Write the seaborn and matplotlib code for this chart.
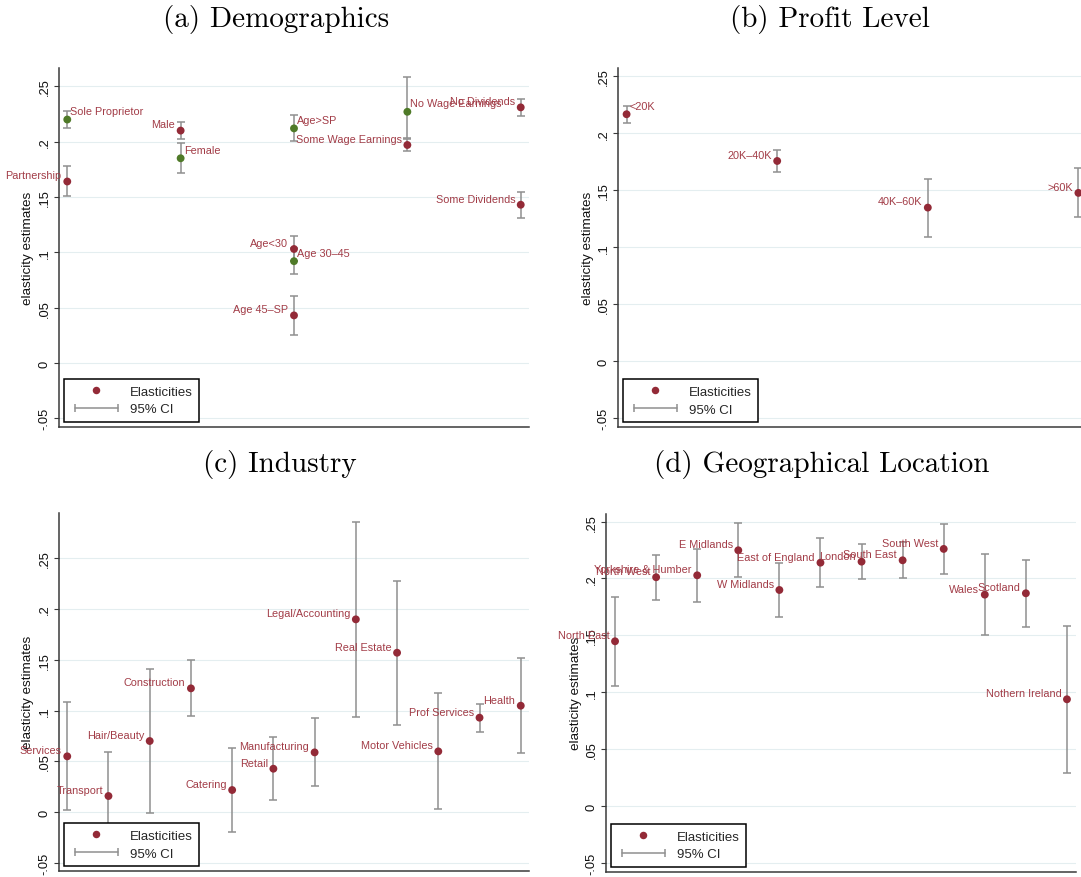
import numpy as np
import pandas as pd
import matplotlib
matplotlib.use("Agg")
import matplotlib.pyplot as plt
import seaborn as sns
from matplotlib.lines import Line2D
from matplotlib.legend_handler import HandlerLine2D

# ---------------- data ----------------
demo_labels = ["Partnership", "Sole Proprietor", "Male", "Female",
               "Age<30", "Age 30\u201345", "Age 45\u2013SP", "Age>SP",
               "Some Wage Earnings", "No Wage Earnings",
               "Some Dividends", "No Dividends"]
demo_group = [1, 1, 2, 2, 3, 3, 3, 3, 4, 4, 5, 5]
demo_est = [0.164, 0.220, 0.210, 0.185, 0.103, 0.092, 0.043, 0.212,
            0.197, 0.227, 0.143, 0.231]
demo_lo = [0.1505, 0.2123, 0.2024, 0.1713, 0.092, 0.0802, 0.025, 0.2005,
           0.1915, 0.2034, 0.1312, 0.2235]
demo_hi = [0.1776, 0.228, 0.218, 0.1987, 0.1146, 0.104, 0.0603, 0.2238,
           0.2025, 0.2587, 0.1547, 0.2388]
demo_kind = ["base", "alt", "base", "alt", "base", "alt", "base", "alt",
             "base", "alt", "base", "base"]

profit_labels = ["<20K", "20K\u201340K", "40K\u201360K", ">60K"]
profit_est = [0.2167, 0.1757, 0.1348, 0.1477]
profit_lo = [0.2088, 0.1658, 0.1094, 0.1263]
profit_hi = [0.2243, 0.1857, 0.1602, 0.1693]

ind_labels = ["Services", "Transport", "Hair/Beauty", "Construction",
              "Catering", "Retail", "Manufacturing", "Legal/Accounting",
              "Real Estate", "Motor Vehicles", "Prof Services", "Health"]
ind_est = [0.0549, 0.0158, 0.070, 0.1219, 0.0217, 0.0427, 0.0588, 0.1899,
           0.157, 0.0598, 0.093, 0.1048]
ind_lo = [0.0016, -0.027, -0.0007, 0.0943, -0.0194, 0.0115, 0.0256, 0.0936,
          0.0861, 0.003, 0.0792, 0.0578]
ind_hi = [0.1081, 0.0588, 0.1406, 0.1495, 0.0631, 0.0742, 0.0923, 0.2861,
          0.228, 0.117, 0.1064, 0.1518]

geo_labels = ["North East", "North West", "Yorkshire & Humber", "E Midlands",
              "W Midlands", "East of England", "London", "South East",
              "South West", "Wales", "Scotland", "Nothern Ireland"]
geo_est = [0.1448, 0.2011, 0.2028, 0.2248, 0.1899, 0.2139, 0.2148, 0.216,
           0.226, 0.1858, 0.187, 0.0938]
geo_lo = [0.1058, 0.1814, 0.1794, 0.2013, 0.1665, 0.1923, 0.1993, 0.2002,
          0.2043, 0.1506, 0.1577, 0.029]
geo_hi = [0.1841, 0.2204, 0.2263, 0.2485, 0.2134, 0.2353, 0.2307, 0.232,
          0.2477, 0.2213, 0.2163, 0.1586]

ytick_vals = [-0.05, 0, 0.05, 0.1, 0.15, 0.2, 0.25]
ytick_text = ["-.05", "0", ".05", ".1", ".15", ".2", ".25"]
titles = ["(a) Demographics", "(b) Profit Level", "(c) Industry",
          "(d) Geographical Location"]

# ---------------- style ----------------
RED = "#932a37"
GREEN = "#4f7a28"
LABEL = "#a23c47"
CI = "#8f8f8f"
GRID = "#e4eef0"
SPINE = "#3a3a3a"

sns.set_theme(style="white")
plt.rcParams["font.family"] = ["Liberation Sans", "DejaVu Sans"]

W, H = 1081, 878
fig = plt.figure(figsize=(W / 100, H / 100), dpi=100)


def add_ax(left, top, right, bottom):
    return fig.add_axes([left / W, 1 - bottom / H, (right - left) / W,
                         (bottom - top) / H])


def draw(ax, x, est, lo, hi, labels, kinds, sides, xlim, ylim, wpx, hpx):
    est = np.asarray(est)
    lo = np.asarray(lo)
    hi = np.asarray(hi)
    ax.errorbar(x, est, yerr=[est - lo, hi - est], fmt="none", ecolor=CI,
                elinewidth=1.1, capsize=2.9, capthick=1.1, zorder=2)
    df = pd.DataFrame({"x": x, "y": est, "kind": kinds})
    sns.scatterplot(data=df, x="x", y="y", hue="kind",
                    palette={"base": RED, "alt": GREEN}, s=32, linewidth=0,
                    legend=False, ax=ax, zorder=3)
    for xi, yi, lab, side in zip(x, est, labels, sides):
        if side == "left":
            ax.annotate(lab, (xi, yi), xytext=(-4.0, 4.4),
                        textcoords="offset points", ha="right", va="center",
                        fontsize=7.8, color=LABEL, zorder=4)
        else:
            ax.annotate(lab, (xi, yi), xytext=(2.2, 6.2),
                        textcoords="offset points", ha="left", va="center",
                        fontsize=7.8, color=LABEL, zorder=4)
    ax.set_xlim(*xlim)
    ax.set_ylim(*ylim)
    ax.set_yticks(ytick_vals, ytick_text, rotation=90, va="center")
    ax.yaxis.grid(True, color=GRID, lw=0.8)
    ax.xaxis.grid(False)
    ax.set_axisbelow(True)
    for s in ["top", "right"]:
        ax.spines[s].set_visible(False)
    for s in ["left", "bottom"]:
        ax.spines[s].set_color(SPINE)
        ax.spines[s].set_linewidth(1.1)
    ax.tick_params(axis="y", left=True, direction="out", length=3.6,
                   width=0.8, color=SPINE, labelsize=9.3, pad=2.4,
                   labelcolor="#111111")
    ax.tick_params(axis="x", bottom=False, labelbottom=False)
    ax.set_xlabel("")
    ax.set_ylabel("elasticity estimates", fontsize=9.7, color="#111111")
    ax.yaxis.set_label_coords(-30.5 / wpx, 0.5)
    ax.yaxis.label.set_verticalalignment("center")

    h1 = Line2D([], [], marker="o", color=RED, linestyle="none",
                markersize=5.4, markeredgewidth=0)
    h2 = Line2D([], [], marker="|", color=CI, linestyle="-", lw=1.1,
                markersize=6, markeredgewidth=1.1)
    leg = ax.legend([h1, h2], ["Elasticities", "95% CI"], loc="lower left",
                    bbox_to_anchor=(5 / wpx, 4.5 / hpx), frameon=True,
                    fancybox=False, edgecolor="black", framealpha=1,
                    fontsize=9.5, handlelength=3.9, handletextpad=0.6,
                    borderpad=0.5, labelspacing=0.42, borderaxespad=0,
                    handler_map={h2: HandlerLine2D(numpoints=2)})
    leg.get_frame().set_linewidth(1.1)
    leg.set_zorder(6)


# (a) Demographics
ax_a = add_ax(59, 69.3, 529, 427.5)
draw(ax_a, demo_group, demo_est, demo_lo, demo_hi, demo_labels, demo_kind,
     ["right" if k == "alt" else "left" for k in demo_kind],
     (0.927, 5.073), (-0.0574, 0.2663), 470, 358.2)

# (b) Profit level
ax_b = add_ax(618, 69.3, 1087, 427.7)
xb = list(range(1, len(profit_labels) + 1))
draw(ax_b, xb, profit_est, profit_lo, profit_hi, profit_labels,
     ["base"] * len(xb), ["right", "left", "left", "left"],
     (0.943, 4.057), (-0.0574, 0.257), 469, 358.4)

# (c) Industry
ax_c = add_ax(59, 514, 529, 871.7)
xc = list(range(1, len(ind_labels) + 1))
draw(ax_c, xc, ind_est, ind_lo, ind_hi, ind_labels, ["base"] * len(xc),
     ["left"] * len(xc), (0.8, 12.2), (-0.0578, 0.2947), 470, 357.7)

# (d) Geography
ax_d = add_ax(606, 515, 1076, 872.5)
xd = list(range(1, len(geo_labels) + 1))
draw(ax_d, xd, geo_est, geo_lo, geo_hi, geo_labels, ["base"] * len(xd),
     ["left"] * len(xd), (0.78, 12.22), (-0.0576, 0.2567), 470, 357.5)

# titles
for (tx, ty), t in zip([(276, 19), (830, 19), (280, 465), (822, 465)], titles):
    fig.text(tx / W, 1 - ty / H, t, ha="center", va="center",
             fontfamily="cmr10", fontsize=21, color="black")

fig.savefig("out.png", dpi=100)
